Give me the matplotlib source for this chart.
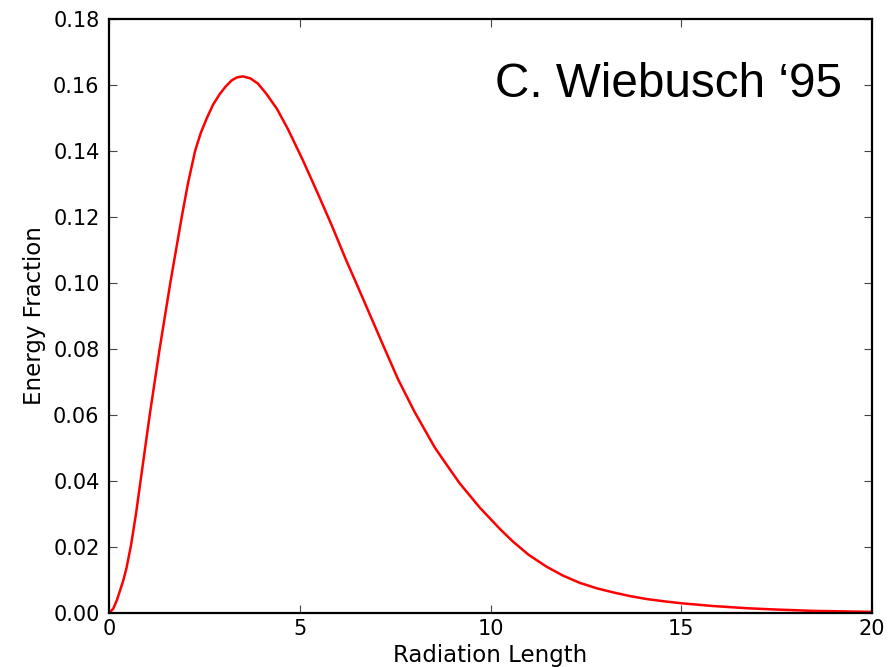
import matplotlib
matplotlib.use("Agg")
import matplotlib.pyplot as plt

# curve
radiation_length = [0.0, 0.1, 0.2, 0.36, 0.45, 0.57, 0.70, 0.82, 0.94, 1.06,
                    1.19, 1.32, 1.46, 1.60, 1.75, 1.90, 2.06, 2.25, 2.40, 2.56,
                    2.72, 2.90, 3.05, 3.21, 3.35, 3.50, 3.70, 3.90, 4.12, 4.40,
                    4.69, 5.08, 5.48, 5.85, 6.20, 6.53, 6.83, 7.20, 7.58, 8.01,
                    8.54, 8.85, 9.19, 9.72, 10.25, 10.59, 11.0, 11.47, 11.9, 12.34,
                    12.8, 13.22, 13.65, 14.09, 14.55, 15.01, 15.8, 16.72, 17.5, 18.46,
                    20.0]
energy_fraction = [0.0, 0.0011, 0.0038, 0.0095, 0.0135, 0.0205, 0.030, 0.040, 0.050, 0.060,
                   0.070, 0.080, 0.090, 0.100, 0.110, 0.120, 0.130, 0.140, 0.1455, 0.1500,
                   0.1540, 0.1573, 0.1595, 0.1614, 0.1623, 0.1626, 0.1620, 0.1604, 0.1573, 0.1527,
                   0.1465, 0.1371, 0.1268, 0.1170, 0.1072, 0.0985, 0.0905, 0.0806, 0.0706, 0.0608,
                   0.0500, 0.0448, 0.0392, 0.0318, 0.0253, 0.0215, 0.0175, 0.0139, 0.0112, 0.0090,
                   0.0073, 0.0061, 0.0050, 0.0041, 0.0034, 0.0028, 0.0020, 0.0013, 0.0009, 0.0005,
                   0.0002]

x_ticks = [0, 5, 10, 15, 20]
y_ticks = [0.00, 0.02, 0.04, 0.06, 0.08, 0.10, 0.12, 0.14, 0.16, 0.18]

fig = plt.figure(figsize=(8.89, 6.67), dpi=100)
ax = fig.add_axes([0.123, 0.0817, 0.8575, 0.8898])

ax.plot(radiation_length, energy_fraction, color="red", linewidth=1.8)

ax.set_xlim(0, 20)
ax.set_ylim(0, 0.18)
ax.set_xticks(x_ticks)
ax.set_yticks(y_ticks)
ax.set_yticklabels(["%.2f" % v for v in y_ticks])
ax.tick_params(direction="in", top=True, right=True, length=6, width=0.8,
               labelsize=15, color="#444444")
ax.tick_params(axis="y", pad=7)
ax.tick_params(axis="x", pad=5)
for s in ax.spines.values():
    s.set_linewidth(1.6)

ax.set_xlabel("Radiation Length", fontsize=16.5, labelpad=3)
ax.set_ylabel("Energy Fraction", fontsize=16.5, labelpad=5)

ax.text(0.961, 0.8686, "C. Wiebusch \u201895", transform=ax.transAxes,
        ha="right", va="baseline", fontsize=34.3, family="Liberation Sans")

fig.savefig("out.png", dpi=100)
